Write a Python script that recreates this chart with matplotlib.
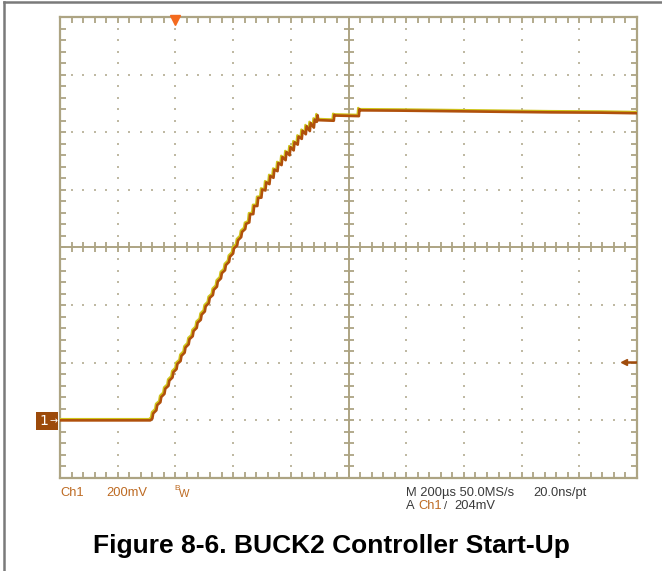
import matplotlib
matplotlib.use("Agg")
import matplotlib.pyplot as plt
from matplotlib.lines import Line2D
from matplotlib.patches import Rectangle
import matplotlib.transforms as mtransforms
import numpy as np

# ---------------- data (time in microseconds, voltage in volts) ----------------
t_us = [-400, -300, -200, -100, -87,
        -80, -77, -66, -63, -52, -49, -38, -35, -24, -21, -10, -7,
        4, 7, 18, 21, 32, 35, 46, 49, 60, 63, 74, 77, 88, 91,
        102, 105, 116, 119, 130, 133, 144, 147, 158, 161, 172, 175,
        186, 189, 200, 203, 214, 217, 228, 231, 242, 245, 256, 259,
        270, 273, 284, 287, 298, 301, 312, 315, 326, 329, 340, 343,
        354, 357, 368, 371, 382, 385, 396, 399, 410, 413, 424, 427,
        438, 441, 452, 455, 466, 469, 480, 483,
        490, 493, 495, 549, 551, 554, 636, 638, 641,
        781, 955, 1128, 1302, 1476, 1600]
v_volts = [0.000, 0.000, 0.000, 0.000, 0.000,
           0.006, 0.024, 0.035, 0.053, 0.063, 0.081, 0.092, 0.110, 0.120, 0.138, 0.149, 0.167,
           0.178, 0.196, 0.206, 0.224, 0.235, 0.253, 0.264, 0.282, 0.292, 0.310, 0.321, 0.339, 0.349, 0.367,
           0.378, 0.396, 0.407, 0.425, 0.435, 0.453, 0.464, 0.482, 0.493, 0.511, 0.521, 0.539,
           0.550, 0.568, 0.579, 0.597, 0.607, 0.625, 0.636, 0.654, 0.664, 0.682, 0.687, 0.715,
           0.716, 0.744, 0.744, 0.772, 0.773, 0.801, 0.798, 0.826, 0.820, 0.848, 0.842, 0.870,
           0.865, 0.893, 0.886, 0.914, 0.903, 0.931, 0.920, 0.948, 0.937, 0.965, 0.957, 0.985,
           0.977, 1.005, 0.993, 1.021, 1.004, 1.032, 1.016, 1.044,
           1.036, 1.059, 1.042, 1.040, 1.060, 1.058, 1.056, 1.080, 1.076,
           1.075, 1.073, 1.071, 1.069, 1.068, 1.066]

time_div_us = 200          # M 200us
volt_div = 0.2             # 200mV
trigger_time_us = 0
trigger_level_v = 0.204
ground_v = 0.0

label_ch = "Ch1"
label_scale = "200mV"
label_timebase = "M 200µs 50.0MS/s"
label_resolution = "20.0ns/pt"
label_trig_level = "204mV"
title = "Figure 8-6. BUCK2 Controller Start-Up"

# ---------------- figure ----------------
W, H = 662, 571
fig = plt.figure(figsize=(W / 100, H / 100), dpi=100)
fig.patch.set_facecolor("white")

def fx(px):
    return px / W

def fy(py):
    return 1 - py / H

left, right, top, bottom = 60, 637, 17, 478
ax = fig.add_axes([fx(left), fy(bottom), fx(right) - fx(left), fy(top) - fy(bottom)])

x0, x1 = -2 * time_div_us, 8 * time_div_us
y0, y1 = ground_v - volt_div, ground_v + 7 * volt_div
ax.set_xlim(x0, x1)
ax.set_ylim(y0, y1)
ax.set_xticks([])
ax.set_yticks([])

grid_c = "#ADA483"
dot_c = "#BFB9A3"
for s in ax.spines.values():
    s.set_color(grid_c)
    s.set_linewidth(1.6)

xc = x0 + 5 * time_div_us
yc = y0 + 4 * volt_div
minor_x = np.arange(x0, x1 + 1e-6, time_div_us / 5)
minor_y = np.arange(y0, y1 + 1e-9, volt_div / 5)

# dotted graticule
for k in range(1, 10):
    if k == 5:
        continue
    xv = x0 + k * time_div_us
    ax.scatter(np.full(len(minor_y), xv), minor_y, s=1.4, marker="s", color=dot_c, lw=0, zorder=1)
for k in range(1, 8):
    if k == 4:
        continue
    yv = y0 + k * volt_div
    ax.scatter(minor_x, np.full(len(minor_x), yv), s=1.4, marker="s", color=dot_c, lw=0, zorder=1)

# center cross with ticks
ax.axvline(xc, color=grid_c, lw=1.4, zorder=1)
ax.axhline(yc, color=grid_c, lw=1.4, zorder=1)
ax.plot(np.full(len(minor_y), xc), minor_y, ls="none", marker="_", ms=6.5, mew=1.3, color=grid_c, zorder=1)
ax.plot(minor_x, np.full(len(minor_x), yc), ls="none", marker="|", ms=6.5, mew=1.3, color=grid_c, zorder=1)
# edge ticks
for yv in (y0, y1):
    ax.plot(minor_x, np.full(len(minor_x), yv), ls="none", marker="|", ms=9, mew=1.3, color=grid_c, zorder=1)
for xv in (x0, x1):
    ax.plot(np.full(len(minor_y), xv), minor_y, ls="none", marker="_", ms=9, mew=1.3, color=grid_c, zorder=1)

# trace: yellow highlight under brown
off = mtransforms.ScaledTranslation(-0.9 / 72, 0.9 / 72, fig.dpi_scale_trans)
ax.plot(t_us, v_volts, color="#CFC51C", lw=1.7, zorder=3, transform=ax.transData + off)
ax.plot(t_us, v_volts, color="#B0500C", lw=1.9, zorder=4)

# trigger marker at top
ax.plot([trigger_time_us], [y1 - 0.012], marker="v", ms=7, color="#F46A1E", mec="#F46A1E",
        clip_on=False, zorder=5)
# trigger level arrow at right
ax.plot([x1 - 44, x1 - 4], [trigger_level_v, trigger_level_v], color="#A04C0C", lw=1.8, zorder=5)
ax.plot([x1 - 44], [trigger_level_v], marker="<", ms=5, color="#A04C0C", mec="#A04C0C", zorder=5)

# ground marker
box_c = "#9C4A0A"
fig.patches.append(Rectangle((fx(36), fy(430)), fx(58) - fx(36), fy(412) - fy(430),
                             transform=fig.transFigure, facecolor=box_c, edgecolor="none"))
fig.text(fx(44), fy(421), "1", color="white", fontsize=10, ha="center", va="center",
         family="DejaVu Sans")
fig.text(fx(53.5), fy(421.5), "→", color="white", fontsize=7, ha="center", va="center",
         family="DejaVu Sans")

# scope readouts
scope_font = ["Liberation Sans Narrow", "Liberation Sans", "DejaVu Sans"]
orange = "#BD6A22"
dark = "#3A3A3A"
fs = 9.3
fig.text(fx(60), fy(493), label_ch, color=orange, fontsize=fs, va="center", family=scope_font)
fig.text(fx(106), fy(493), label_scale, color=orange, fontsize=fs, va="center", family=scope_font)
fig.text(fx(174), fy(489), "B", color=orange, fontsize=6, va="center", family=scope_font)
fig.text(fx(179), fy(494), "W", color=orange, fontsize=8, va="center", family=scope_font)
fig.text(fx(406), fy(493), label_timebase, color=dark, fontsize=fs, va="center", family=scope_font)
fig.text(fx(533), fy(493), label_resolution, color=dark, fontsize=fs, va="center", family=scope_font)
fig.text(fx(406), fy(506), "A", color=dark, fontsize=fs, va="center", family=scope_font)
fig.text(fx(418), fy(506), label_ch, color=orange, fontsize=fs, va="center", family=scope_font)
fig.text(fx(444), fy(506), "/", color=dark, fontsize=8, va="center", family=scope_font)
fig.text(fx(454), fy(506), label_trig_level, color=dark, fontsize=fs, va="center", family=scope_font)

# title
fig.text(fx(331), fy(546), title, fontsize=19, fontweight="bold", ha="center", va="center",
         family=["Liberation Sans", "DejaVu Sans"], color="black")

# page border (left and top)
fig.add_artist(Line2D([fx(3.5), fx(3.5)], [0, fy(2)], transform=fig.transFigure, color="#7A7A7A", lw=1.8))
fig.add_artist(Line2D([fx(3.5), 1], [fy(2), fy(2)], transform=fig.transFigure, color="#7A7A7A", lw=1.8))

fig.savefig("out.png", dpi=100, facecolor="white")
